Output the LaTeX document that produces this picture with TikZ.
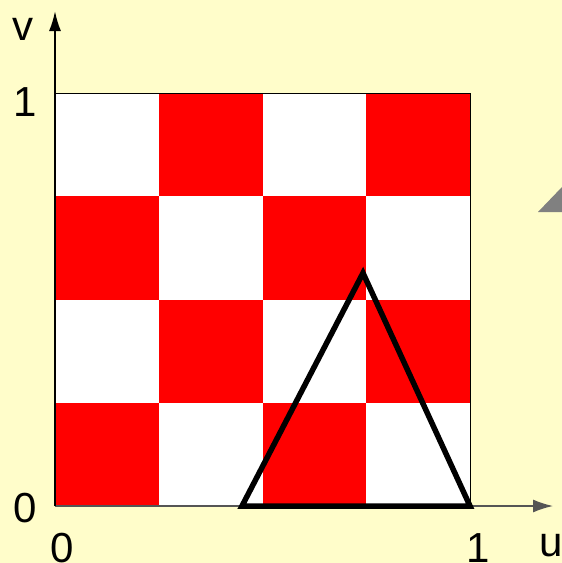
\documentclass[tikz,border=0pt]{standalone}
\usepackage{fontspec}
\setmainfont{Liberation Sans}
\usetikzlibrary{arrows.meta}

\definecolor{bgyellow}{HTML}{FFFDCA}
\definecolor{checkred}{HTML}{FF0000}
\definecolor{axisgray}{HTML}{555555}

\begin{document}
\begin{tikzpicture}[x=1pt, y=-1pt, every node/.style={font=\fontsize{42}{48}\selectfont, inner sep=0pt}]
\fill[bgyellow] (0,0) rectangle (562,563);
\useasboundingbox (0,0) rectangle (562,563);
% checkerboard
\fill[white] (55,93) rectangle (470,506);
\foreach \i in {0,...,3}
  \foreach \j in {0,...,3} {
    \ifodd\numexpr\i+\j\relax
      \fill[checkred] (55+\i*103.75,93+\j*103.25) rectangle ++(103.75,103.25);
    \fi
  }
\draw[line width=1pt] (55,93) -- (470,93) -- (470,506);
% axes
\coordinate (o) at (55,506);
\coordinate (utip) at (553,506);
\coordinate (vtip) at (55,11);
\draw[axisgray, line width=1.5pt, -{Latex[length=20pt,width=13pt]}] (o) -- (utip);
\draw[line width=2pt, -{Latex[length=20pt,width=12pt]}] (o) -- (vtip);
% triangle
\coordinate (ta) at (242,506);
\coordinate (tb) at (363,273);
\coordinate (tc) at (470,506);
\draw[line width=5.5pt, line join=miter] (ta) -- (tb) -- (tc) -- cycle;
% cut-off pointer
\fill[gray] (538,212) -- (562,187) -- (562,212) -- cycle;
% labels
\node (vlab) at (23,29) {v};
\node (vone) at (25,102) {1};
\node (vzero) at (25,508) {0};
\node (uzero) at (62,548) {0};
\node (uone) at (478,548) {1};
\node (ulab) at (551,546) {u};
\end{tikzpicture}
\end{document}
